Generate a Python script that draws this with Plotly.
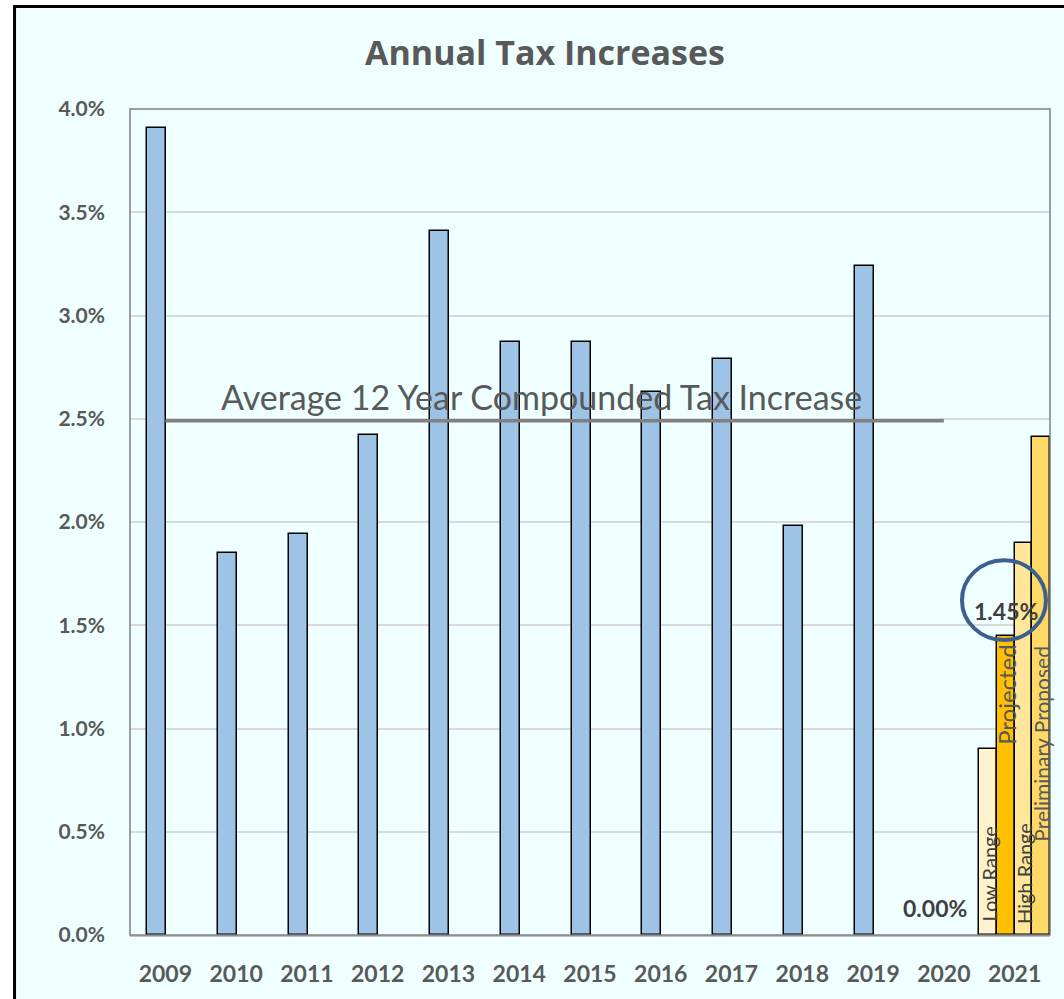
import plotly.graph_objects as go

# ---------------- data ----------------
years = ["2009", "2010", "2011", "2012", "2013", "2014", "2015",
         "2016", "2017", "2018", "2019", "2020", "2021"]
annual_increase = [3.91, 1.85, 1.94, 2.42, 3.41, 2.87, 2.87,
                   2.63, 2.79, 1.98, 3.24, 0.00, None]
labelled_years = ["2020"]

scenario_names = ["Low Range", "Projected", "High Range", "Preliminary Proposed"]
scenario_values = [0.90, 1.45, 1.90, 2.41]
scenario_year = "2021"
labelled_scenarios = ["Projected"]

average_rate = 2.49
average_label = "Average 12 Year Compounded Tax Increase"
average_span = ["2009", "2020"]

y_ticks = [0.0, 0.5, 1.0, 1.5, 2.0, 2.5, 3.0, 3.5, 4.0]

# ---------------- style ----------------
BG = "#EFFFFF"
TXT = "#595959"
FONT = "Lato"
blue = "#9DC3E6"
scenario_colors = ["#FFF2CC", "#FFC000", "#FFE699", "#FFD966"]
scenario_text_style = [
    dict(size=20, color="#404040"),
    dict(size=24, color="#595959"),
    dict(size=20, color="#404040"),
    dict(size=21, color="#595959"),
]
# vertical placement of the in-bar labels (y in data units, anchor, shift px)
scenario_text_pos = [(0.0, "bottom", 11), (1.45, "top", -6),
                     (0.0, "bottom", 9), (0.927, "middle", 0)]

idx = {y: i for i, y in enumerate(years)}
blue_offset = -0.125
blue_width = 0.27
scen_width = 0.25

fig = go.Figure()

# blue bars
bx = [idx[y] + blue_offset for y in years]
blue_line_w = [0 if (v is None or v == 0) else 1.5 for v in annual_increase]
fig.add_trace(go.Bar(
    x=bx, y=annual_increase, width=blue_width,
    marker=dict(color=blue, line=dict(color="black", width=blue_line_w)),
    showlegend=False, hoverinfo="skip"))

# scenario bars for 2021
n = len(scenario_names)
sx = [idx[scenario_year] + (k - (n - 1) / 2) * scen_width for k in range(n)]
for k in range(n):
    fig.add_trace(go.Bar(
        x=[sx[k]], y=[scenario_values[k]], width=scen_width,
        marker=dict(color=scenario_colors[k], line=dict(color="black", width=1.5)),
        showlegend=False, hoverinfo="skip"))

# average line
ax0, ax1 = idx[average_span[0]], idx[average_span[1]]
fig.add_trace(go.Scatter(
    x=[ax0, ax1], y=[average_rate, average_rate], mode="lines",
    line=dict(color="#808080", width=3.5), showlegend=False, hoverinfo="skip"))

annotations = []
# average text
annotations.append(dict(
    x=5.31, y=2.61, xref="x", yref="y", text=average_label, showarrow=False,
    font=dict(family=FONT, size=34, color=TXT), xanchor="center", yanchor="middle"))

# data labels
for y in labelled_years:
    v = annual_increase[idx[y]]
    annotations.append(dict(
        x=idx[y] + blue_offset, y=v, xref="x", yref="y", text=f"{v:.2f}%",
        showarrow=False, yshift=27, xanchor="center", yanchor="middle",
        font=dict(family=FONT, size=23, color="#404040", weight=700)))
for nm in labelled_scenarios:
    k = scenario_names.index(nm)
    v = scenario_values[k]
    annotations.append(dict(
        x=sx[k], y=v, xref="x", yref="y", text=f"{v:.2f}%",
        showarrow=False, yshift=25, xanchor="center", yanchor="middle",
        font=dict(family=FONT, size=23, color="#404040", weight=700)))

# in-bar rotated labels
for k in range(n):
    yy, anc, sh = scenario_text_pos[k]
    annotations.append(dict(
        x=sx[k], y=yy, xref="x", yref="y", text=scenario_names[k],
        showarrow=False, textangle=-90, xanchor="center", yanchor=anc, yshift=sh,
        font=dict(family=FONT, **scenario_text_style[k])))

shapes = [
    # outer chart frame
    dict(type="rect", xref="paper", yref="paper", x0=-0.1255, x1=1.05,
         y0=-0.1, y1=1.1241, fillcolor=BG, line=dict(color="black", width=3),
         layer="below"),
    # plot area border
    dict(type="rect", xref="paper", yref="paper", x0=0, x1=1, y0=0, y1=1,
         line=dict(color="#808080", width=1.5), layer="above"),
    # circle highlight
    dict(type="circle", xref="x", yref="y", x0=11.256, x1=12.443,
         y0=1.428, y1=1.815, line=dict(color="#3B5F8F", width=4), layer="above"),
]

fig.update_layout(
    width=1064, height=999,
    margin=dict(l=130, r=14, t=109, b=64),
    paper_bgcolor="white", plot_bgcolor="rgba(0,0,0,0)",
    bargap=0, barmode="overlay",
    title=dict(text="Annual Tax Increases", x=545 / 1064, y=1 - 53 / 999,
               xanchor="center", yanchor="middle",
               font=dict(family="Open Sans", size=34, color=TXT, weight=700)),
    xaxis=dict(range=[-0.5, 12.5], tickvals=list(range(len(years))), ticktext=years,
               showgrid=False, zeroline=False, showline=True, linecolor="#BFBFBF",
               linewidth=1.5, ticks="", ticklabelstandoff=18,
               tickfont=dict(family=FONT, size=23, color=TXT, weight=700)),
    yaxis=dict(range=[0, 4.0], tickvals=y_ticks,
               ticktext=[f"{t:.1f}%" for t in y_ticks],
               showgrid=True, gridcolor="#D9D9D9", gridwidth=1.5, zeroline=False,
               showline=False, ticks="", ticklabelstandoff=24,
               tickfont=dict(family=FONT, size=21, color=TXT, weight=700)),
    annotations=annotations,
    shapes=shapes,
)

fig.write_html("out.html")
